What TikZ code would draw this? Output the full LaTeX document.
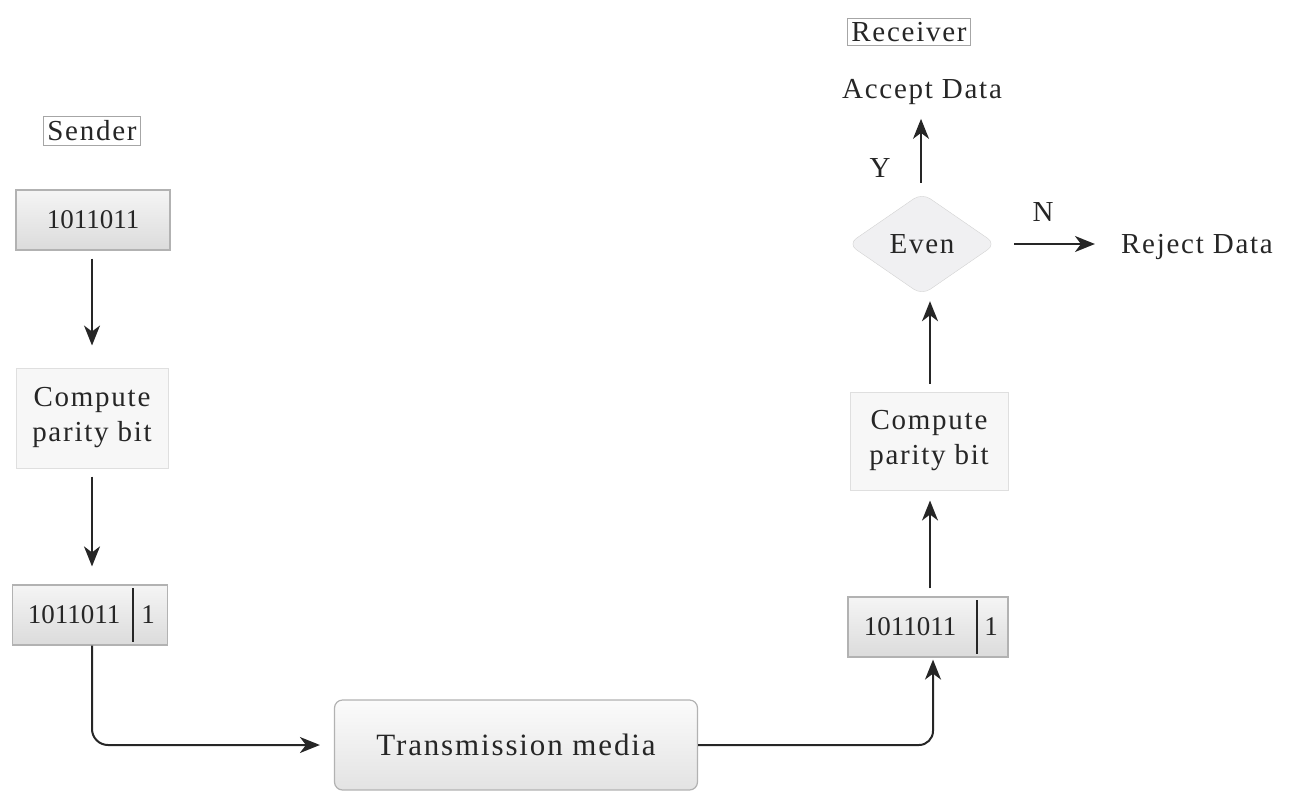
\documentclass[tikz,border=0pt]{standalone}
\usepackage{fontspec}
\setmainfont[LetterSpace=6]{Liberation Serif}
\newfontfamily\digitfont{Liberation Serif}
\usetikzlibrary{arrows.meta,shapes.geometric,calc}
\begin{document}
\begin{tikzpicture}[x=1pt,y=-1pt,
  every node/.style={font=\fontsize{29}{35}\selectfont, text=black!85},
  dig/.style={font=\digitfont\fontsize{27}{32}\selectfont},
  arr/.style={draw=black!85, line width=2pt, -{Stealth[length=20pt,width=16pt,inset=6pt]}},
  tagbox/.style={draw=gray!70, fill=white, line width=1pt, inner sep=4pt},
  databox/.style={draw=gray!60, line width=1.2pt, top color=gray!8, bottom color=gray!28, minimum height=60pt},
  procbox/.style={draw=gray!25, line width=1pt, fill=gray!6, align=center, minimum width=152pt, minimum height=100pt},
  decbox/.style={diamond, aspect=1.45, draw=gray!35, fill=blue!5!gray!11, rounded corners=10pt, minimum width=148pt, minimum height=102pt, inner sep=0pt},
  mediabox/.style={draw=gray!60, line width=1.2pt, rounded corners=8pt, top color=gray!3, bottom color=gray!22, minimum width=363pt, minimum height=90pt},
  lbl/.style={inner sep=0pt}]
\useasboundingbox (0,0) rectangle (1294,804);
% sender side
\node[tagbox] (sender) at (92,131) {Sender};
\node[databox, dig, minimum width=154pt] (s1) at (93,220) {1011011};
\node[procbox] (s2) at (92,418) {Compute\\parity bit};
\node[databox, minimum width=155pt] (s3) at (90,615) {};
\node[lbl, dig] (s3a) at (74,615) {1011011};
\node[lbl, dig] (s3b) at (148,615) {1};
\draw[black!85, line width=2pt] ($(s3.north)+(43,4)$) coordinate (s3d1) -- ($(s3.south)+(43,-4)$) coordinate (s3d2);
% media
\node[mediabox] (tm) at (516,745) {\fontsize{31}{36}\selectfont Transmission media};
% receiver side
\node[databox, minimum width=160pt] (r1) at (928,627) {};
\node[lbl, dig] (r1a) at (910,627) {1011011};
\node[lbl, dig] (r1b) at (991,627) {1};
\draw[black!85, line width=2pt] ($(r1.north)+(49,4)$) coordinate (r1d1) -- ($(r1.south)+(49,-4)$) coordinate (r1d2);
\node[procbox, minimum width=158pt, minimum height=98pt] (r2) at (929,441) {Compute\\parity bit};
\node[decbox] (even) at (922,244) {Even};
\node[lbl] (accept) at (922,92) {Accept Data};
\node[lbl] (reject) at (1197,247) {Reject Data};
\node[tagbox] (receiver) at (909,32) {Receiver};
\node[lbl] (ylab) at (880,168) {Y};
\node[lbl] (nlab) at (1043,212) {N};
% connectors
\draw[arr, shorten <=8pt, shorten >=22pt] (s1.south -| 92,0) -- (s2.north -| 92,0);
\draw[arr, shorten <=8pt, shorten >=18pt] (s2.south -| 92,0) -- (s3.north -| 92,0);
\draw[arr, rounded corners=16pt, shorten >=14pt] (s3.south -| 92,0) |- (tm.west);
\draw[arr, rounded corners=14pt, shorten >=2pt] (tm.east) -| (r1.south -| 933,0);
\draw[arr, shorten <=8pt, shorten >=10pt] (r1.north -| 930,0) -- (r2.south -| 930,0);
\draw[arr, shorten <=8pt, shorten >=6pt] (r2.north -| 930,0) -- (even.south -| 930,0);
\draw[arr, shorten <=10pt, shorten >=14pt] (even.north -| 921,0) -- (accept.south -| 921,0);
\draw[arr, shorten <=18pt, shorten >=26pt] (even.east) -- (even.east -| reject.west);
\end{tikzpicture}
\end{document}
